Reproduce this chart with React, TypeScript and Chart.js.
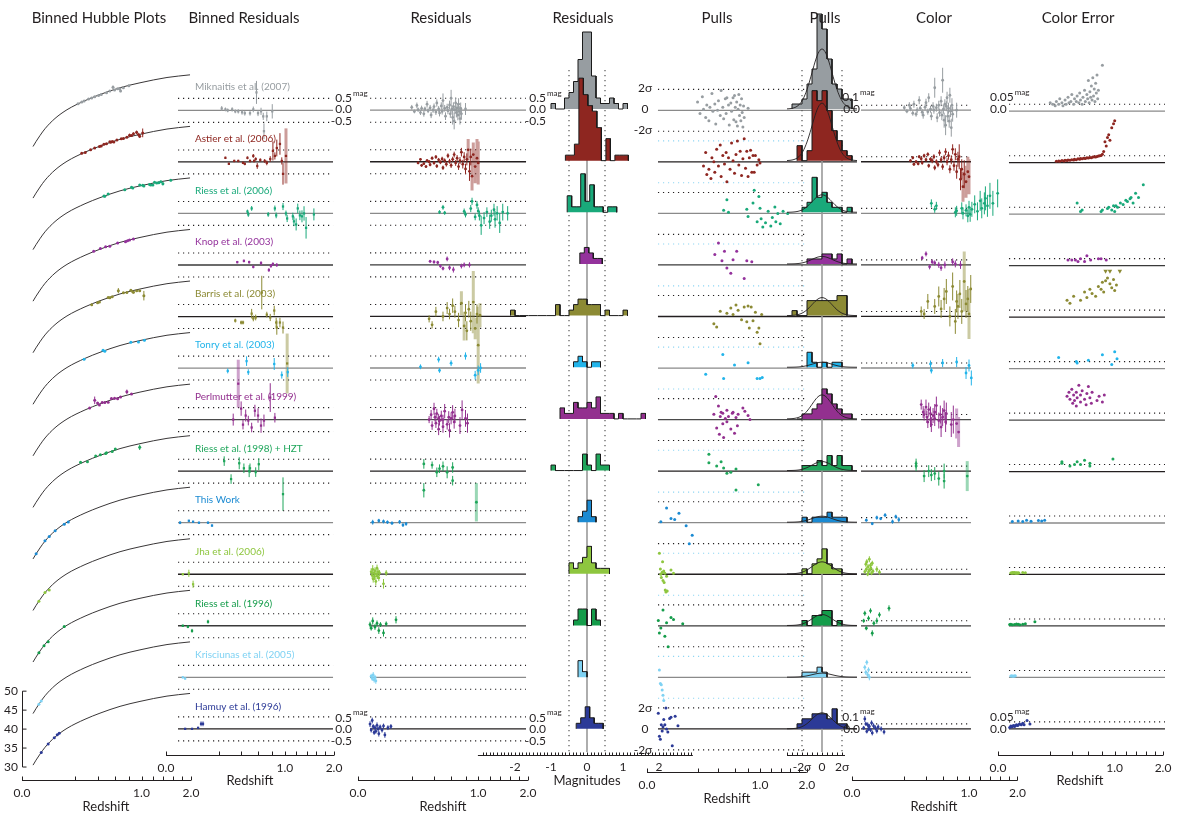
import React, { useEffect, useRef } from 'react';
import { Chart, registerables } from 'chart.js';

Chart.register(...registerables);

const W = 1180;
const H = 815;
const FONT = 'Lato, "Noto Sans", "DejaVu Sans", sans-serif';
const INK = '#231f20';

// ---------------------------------------------------------------- surveys
const SURVEYS = [
  'Miknaitis et al. (2007)', 'Astier et al. (2006)', 'Riess et al. (2006)', 'Knop et al. (2003)',
  'Barris et al. (2003)', 'Tonry et al. (2003)', 'Perlmutter et al. (1999)', 'Riess et al. (1998) + HZT',
  'This Work', 'Jha et al. (2006)', 'Riess et al. (1996)', 'Krisciunas et al. (2005)', 'Hamuy et al. (1996)',
];
const COLORS = ['#979da1', '#8e2620', '#19a97a', '#94329c', '#8c8a34', '#22b4ea', '#93308f', '#1fa65b',
  '#1b8ad2', '#8ec63f', '#149c4a', '#7fd2f3', '#2c3a97'];
const LINE_SHADE = ['#8a8a8a', '#231f20', '#8a8a8a', '#3a3a3a', '#231f20', '#8a8a8a', '#4a4a4a', '#231f20',
  '#8a8a8a', '#231f20', '#3a3a3a', '#8a8a8a', '#231f20'];

// ---------------------------------------------------------------- binned residuals [z, residual, error]
const BIN_MIKNAITIS = [
  [0.22, 0.08, 0.10], [0.25, 0.04, 0.08], [0.27, 0.0, 0.08], [0.31, 0.04, 0.09], [0.34, -0.04, 0.08],
  [0.37, -0.04, 0.09], [0.41, -0.08, 0.10], [0.44, -0.12, 0.10], [0.50, -0.12, 0.10], [0.54, 0.04, 0.12],
  [0.58, 0.75, 0.48], [0.60, -0.12, 0.12], [0.64, -0.04, 0.15], [0.67, -0.25, 0.15], [0.68, -0.87, 0.33],
  [0.72, -0.25, 0.20], [0.80, -0.04, 0.30],
];
const BIN_ASTIER = [
  [0.25, 0.17, 0.05], [0.28, -0.08, 0.05], [0.33, 0.04, 0.05], [0.37, 0.04, 0.05], [0.42, -0.04, 0.05],
  [0.44, -0.08, 0.06], [0.47, 0.17, 0.06], [0.50, 0.04, 0.06], [0.54, 0.25, 0.08], [0.55, 0.04, 0.06],
  [0.57, 0.12, 0.07], [0.59, -0.17, 0.12], [0.63, 0.08, 0.07], [0.69, 0.04, 0.08], [0.72, -0.04, 0.10],
  [0.77, 0.12, 0.12], [0.81, 0.46, 0.40], [0.84, 0.25, 0.15], [0.87, 0.58, 0.35], [0.92, 0.75, 0.45],
  [0.95, 0.04, 0.15], [0.97, -0.50, 0.45], [1.02, 0.25, 1.15],
];
const BIN_RIESS06 = [
  [0.47, 0.08, 0.08], [0.48, -0.04, 0.10], [0.52, 0.21, 0.10], [0.74, -0.04, 0.10], [0.84, 0.21, 0.12],
  [0.86, -0.08, 0.12], [0.97, 0.29, 0.15], [1.02, 0.0, 0.12], [1.04, -0.21, 0.15], [1.14, -0.12, 0.15],
  [1.16, -0.33, 0.20], [1.20, -0.46, 0.25], [1.23, 0.21, 0.20], [1.27, -0.08, 0.20], [1.31, -0.12, 0.25],
  [1.35, 0.0, 0.30], [1.39, -0.60, 0.45], [1.55, -0.04, 0.25],
];
const BIN_KNOP = [
  [0.36, 0.12, 0.05], [0.43, 0.17, 0.06], [0.49, 0.12, 0.06], [0.54, -0.08, 0.06], [0.64, 0.08, 0.08],
  [0.75, -0.21, 0.08], [0.78, -0.04, 0.08], [0.81, 0.04, 0.07], [0.87, 0.0, 0.08],
];
const BIN_BARRIS = [
  [0.34, -0.17, 0.08], [0.40, -0.25, 0.08], [0.42, -0.25, 0.08], [0.52, 0.12, 0.20], [0.54, -0.08, 0.12],
  [0.57, -0.04, 0.12], [0.65, 1.00, 0.70], [0.72, 0.08, 0.12], [0.77, -0.04, 0.15], [0.83, 0.25, 0.20],
  [0.86, -0.25, 0.20], [0.87, -0.46, 0.30], [0.92, -0.25, 0.20], [0.97, -0.46, 0.25], [1.04, -1.96, 1.25],
];
const BIN_TONRY = [
  [0.27, -0.12, 0.10], [0.46, 0.29, 0.20], [0.48, -0.17, 0.12], [0.83, 0.17, 0.25], [0.95, -0.29, 0.15],
  [1.05, -0.17, 0.20],
];
const BIN_PERLMUTTER = [
  [0.32, 0.0, 0.25], [0.37, 1.5, 1.0], [0.40, 0.46, 0.30], [0.42, -0.21, 0.20], [0.45, 0.17, 0.25],
  [0.48, -0.04, 0.20], [0.52, -0.33, 0.20], [0.56, 0.37, 0.25], [0.60, 0.17, 0.30], [0.64, -0.25, 0.30],
  [0.68, -0.04, 0.25], [0.77, 0.92, 0.60], [0.84, 0.08, 0.20],
];
const BIN_RIESS98 = [
  [0.24, 0.42, 0.20], [0.30, -0.33, 0.20], [0.38, 0.33, 0.25], [0.43, 0.12, 0.20], [0.49, 0.0, 0.25],
  [0.50, 0.12, 0.20], [0.57, -0.04, 0.20], [0.61, 0.29, 0.25], [0.97, -0.96, 0.70],
];
const BIN_THISWORK = [
  [0.014, 0.0, 0.06], [0.037, 0.08, 0.04], [0.052, 0.04, 0.04], [0.077, 0.0, 0.04], [0.125, 0.0, 0.05],
  [0.15, -0.12, 0.05],
];
const BIN_JHA = [[0.02, 0.0, 0.05], [0.037, 0.04, 0.15], [0.052, -0.42, 0.15]];
const BIN_RIESS96 = [[0.02, 0.0, 0.05], [0.034, -0.04, 0.06], [0.048, -0.21, 0.08], [0.125, 0.17, 0.08]];
const BIN_KRISCIUNAS = [[0.02, 0.0, 0.05], [0.026, -0.05, 0.05]];
const BIN_HAMUY = [[0.026, 0.0, 0.04], [0.048, 0.0, 0.04], [0.073, 0.04, 0.05], [0.087, 0.21, 0.10], [0.097, 0.21, 0.10]];

// ---------------------------------------------------------------- supernovae
// [z, residual, error, pull, color, color error bar, color uncertainty]
const SN_MIKNAITIS = [
  [0.20, 0.12, 0.10, 0.8, 0.05, 0.05, 0.06], [0.22, -0.05, 0.08, -0.3, -0.02, 0.04, 0.05],
  [0.24, 0.20, 0.12, 1.3, 0.10, 0.06, 0.04], [0.25, 0.02, 0.09, 0.1, 0.03, 0.05, 0.07],
  [0.27, -0.10, 0.10, -0.7, -0.06, 0.05, 0.05], [0.28, 0.08, 0.11, 0.5, 0.12, 0.07, 0.09],
  [0.30, -0.15, 0.12, -1.0, -0.08, 0.05, 0.06], [0.31, 0.05, 0.10, 0.3, 0.00, 0.06, 0.04],
  [0.33, 0.25, 0.14, 1.6, 0.20, 0.08, 0.08], [0.34, -0.02, 0.10, -0.1, 0.04, 0.05, 0.05],
  [0.36, 0.10, 0.12, 0.6, -0.04, 0.06, 0.10], [0.37, -0.20, 0.13, -1.3, -0.10, 0.07, 0.06],
  [0.39, 0.00, 0.11, 0.0, 0.06, 0.06, 0.07], [0.40, 0.15, 0.13, 0.9, 0.15, 0.08, 0.12],
  [0.42, -0.08, 0.12, -0.5, -0.03, 0.06, 0.05], [0.43, 0.30, 0.15, 1.9, 0.25, 0.09, 0.09],
  [0.45, 0.05, 0.12, 0.3, 0.02, 0.07, 0.07], [0.46, -0.12, 0.14, -0.8, -0.12, 0.08, 0.11],
  [0.48, 0.18, 0.15, 1.1, 0.08, 0.08, 0.06], [0.49, -0.05, 0.13, -0.3, 0.00, 0.07, 0.13],
  [0.50, 0.40, 0.30, 1.2, 0.45, 0.20, 0.08], [0.52, 0.08, 0.14, 0.5, 0.05, 0.08, 0.05],
  [0.53, -0.25, 0.16, -1.4, -0.15, 0.09, 0.10], [0.55, 0.12, 0.15, 0.7, 0.10, 0.09, 0.15],
  [0.56, -0.02, 0.15, -0.1, -0.05, 0.08, 0.07], [0.58, 0.22, 0.18, 1.2, 0.18, 0.10, 0.12],
  [0.59, -0.15, 0.17, -0.9, -0.10, 0.10, 0.09], [0.60, 0.50, 0.35, 1.4, 0.60, 0.25, 0.22],
  [0.61, 0.05, 0.16, 0.3, 0.02, 0.09, 0.06], [0.62, -0.30, 0.30, -1.1, -0.20, 0.15, 0.14],
  [0.63, 0.15, 0.18, 0.8, 0.12, 0.10, 0.10], [0.64, -0.45, 0.35, -1.5, -0.30, 0.20, 0.18],
  [0.65, 0.02, 0.17, 0.1, 0.08, 0.10, 0.08], [0.66, 0.30, 0.22, 1.5, 0.25, 0.12, 0.24],
  [0.67, -0.10, 0.20, -0.5, -0.12, 0.12, 0.11], [0.68, 0.10, 0.20, 0.5, 0.04, 0.11, 0.16],
  [0.69, -0.20, 0.22, -1.0, -0.22, 0.13, 0.07], [0.70, 0.25, 0.25, 1.1, 0.30, 0.15, 0.20],
  [0.71, -0.05, 0.22, -0.2, -0.02, 0.12, 0.13], [0.72, -0.35, 0.25, -1.6, -0.35, 0.18, 0.26],
  [0.73, 0.08, 0.24, 0.4, 0.10, 0.14, 0.09], [0.74, -0.15, 0.25, -0.7, -0.08, 0.15, 0.15],
  [0.80, 0.05, 0.25, 0.2, 0.00, 0.15, 0.33],
];
const SN_ASTIER = [
  [0.25, -0.05, 0.05, -0.4, 0.02, 0.03, 0.010], [0.27, 0.10, 0.05, 0.9, 0.08, 0.03, 0.012],
  [0.28, -0.15, 0.06, -1.2, -0.05, 0.03, 0.010], [0.30, -0.08, 0.05, -0.7, 0.00, 0.03, 0.015],
  [0.32, -0.20, 0.06, -1.6, -0.04, 0.03, 0.012], [0.33, 0.05, 0.06, 0.4, 0.10, 0.03, 0.018],
  [0.35, 0.00, 0.06, 0.0, 0.06, 0.04, 0.015], [0.36, -0.12, 0.07, -1.0, -0.02, 0.04, 0.020],
  [0.38, 0.15, 0.07, 1.2, 0.12, 0.04, 0.018], [0.40, -0.05, 0.07, -0.4, 0.04, 0.04, 0.022],
  [0.42, 0.20, 0.08, 1.6, 0.15, 0.04, 0.020], [0.43, -0.18, 0.08, -1.4, -0.08, 0.04, 0.025],
  [0.45, 0.08, 0.08, 0.6, 0.05, 0.04, 0.022], [0.47, -0.02, 0.08, -0.2, 0.02, 0.05, 0.028],
  [0.49, 0.12, 0.09, 0.9, 0.10, 0.05, 0.025], [0.50, -0.25, 0.09, -1.9, -0.12, 0.05, 0.030],
  [0.52, 0.05, 0.09, 0.4, 0.00, 0.05, 0.028], [0.54, -0.10, 0.10, -0.7, -0.06, 0.05, 0.032],
  [0.56, 0.25, 0.10, 1.8, 0.18, 0.06, 0.030], [0.58, 0.02, 0.10, 0.1, 0.04, 0.06, 0.035],
  [0.60, -0.15, 0.11, -1.1, -0.10, 0.06, 0.033], [0.62, 0.10, 0.11, 0.7, 0.08, 0.06, 0.038],
  [0.64, 0.30, 0.12, 2.0, 0.20, 0.07, 0.036], [0.66, -0.05, 0.12, -0.3, 0.00, 0.07, 0.040],
  [0.68, 0.15, 0.13, 1.0, 0.12, 0.08, 0.042], [0.70, -0.20, 0.14, -1.3, -0.15, 0.08, 0.040],
  [0.72, 0.05, 0.15, 0.3, 0.04, 0.09, 0.045], [0.74, 0.40, 0.18, 2.2, 0.25, 0.10, 0.048],
  [0.76, -0.10, 0.18, -0.6, -0.08, 0.10, 0.050], [0.78, 0.20, 0.20, 1.0, 0.15, 0.12, 0.052],
  [0.80, -0.30, 0.22, -1.4, -0.20, 0.14, 0.060], [0.82, 0.10, 0.25, 0.4, 0.05, 0.15, 0.080],
  [0.84, 0.50, 0.45, 1.1, 0.10, 0.25, 0.150], [0.86, -0.40, 0.40, -1.0, -0.35, 0.22, 0.120],
  [0.88, 0.20, 0.35, 0.6, -0.15, 0.20, 0.180], [0.90, -0.60, 0.60, -1.0, -0.50, 0.30, 0.200],
  [0.92, 0.30, 0.50, 0.6, -0.25, 0.28, 0.160], [0.95, -0.20, 0.70, -0.3, -0.40, 0.32, 0.250],
  [0.98, 0.15, 0.80, 0.2, -0.20, 0.30, 0.280], [1.00, -0.05, 0.90, -0.1, -0.30, 0.35, 0.300],
];
const SN_RIESS06 = [
  [0.46, 0.05, 0.08, 0.3, 0.20, 0.08, 0.08], [0.50, 0.25, 0.10, 1.3, 0.08, 0.07, 0.02],
  [0.52, 0.02, 0.08, 0.1, 0.15, 0.08, 0.03], [0.78, 0.08, 0.12, 0.4, 0.02, 0.10, 0.02],
  [0.80, -0.05, 0.12, -0.3, 0.05, 0.10, 0.03], [0.88, 0.20, 0.15, 1.0, 0.10, 0.12, 0.04],
  [0.90, 0.50, 0.15, 2.2, 0.00, 0.12, 0.05], [0.95, -0.15, 0.14, -0.8, 0.06, 0.12, 0.03],
  [0.98, 0.35, 0.16, 1.6, -0.05, 0.13, 0.06], [1.00, 0.10, 0.15, 0.5, 0.12, 0.13, 0.02],
  [1.02, -0.10, 0.20, -0.5, -0.02, 0.15, 0.06], [1.05, -0.50, 0.40, -1.3, 0.08, 0.15, 0.05],
  [1.10, -0.20, 0.25, -0.9, 0.18, 0.18, 0.08], [1.15, 0.05, 0.20, 0.2, 0.04, 0.18, 0.07],
  [1.20, -0.35, 0.30, -1.2, 0.25, 0.20, 0.10], [1.23, -0.10, 0.25, -0.4, 0.10, 0.20, 0.09],
  [1.28, 0.15, 0.25, 0.6, 0.20, 0.22, 0.11], [1.30, -0.25, 0.35, -0.8, 0.30, 0.24, 0.12],
  [1.34, 0.00, 0.30, 0.0, 0.15, 0.22, 0.08], [1.39, -0.40, 0.42, -1.0, 0.35, 0.26, 0.15],
  [1.45, 0.05, 0.35, 0.2, 0.20, 0.25, 0.12], [1.55, 0.00, 0.30, 0.0, 0.40, 0.28, 0.21],
];
const SN_KNOP = [
  [0.36, 0.15, 0.06, 1.0, 0.14, 0.04, 0.04], [0.40, 0.12, 0.06, 2.1, 0.22, 0.05, 0.04],
  [0.44, 0.10, 0.07, 0.4, -0.04, 0.05, 0.04], [0.47, -0.05, 0.07, 1.3, 0.06, 0.05, 0.03],
  [0.50, -0.15, 0.08, -0.3, 0.04, 0.05, 0.05], [0.55, 0.25, 0.10, -0.8, 0.00, 0.06, 0.03],
  [0.58, -0.12, 0.10, 0.5, -0.06, 0.06, 0.07], [0.63, -0.20, 0.12, 1.3, 0.00, 0.07, 0.04],
  [0.74, -0.05, 0.10, -1.3, 0.06, 0.07, 0.05], [0.78, 0.00, 0.10, 0.4, 0.02, 0.07, 0.05],
  [0.86, 0.00, 0.11, 0.3, 0.00, 0.08, 0.04],
];
const SN_BARRIS = [
  [0.35, -0.10, 0.15, -0.7, 0.10, 0.10, 0.12], [0.38, -0.35, 0.15, -1.0, 0.05, 0.10, 0.10],
  [0.42, 0.20, 0.20, 0.5, 0.30, 0.15, 0.15], [0.50, 0.00, 0.20, 0.3, 0.20, 0.15, 0.12],
  [0.55, 0.35, 0.25, 0.8, 0.40, 0.20, 0.18], [0.58, 0.10, 0.22, 0.2, 0.15, 0.18, 0.14],
  [0.62, 0.45, 0.30, 1.1, 0.35, 0.22, 0.20], [0.65, 0.20, 0.25, 0.6, 0.50, 0.25, 0.17],
  [0.70, -0.15, 0.30, -0.3, 0.00, 0.20, 0.15], [0.74, 0.55, 0.50, 0.9, 0.60, 0.28, 0.22],
  [0.78, -0.40, 0.60, -0.5, -0.10, 0.25, 0.20], [0.80, 0.15, 0.35, 1.0, 0.30, 0.22, 0.25],
  [0.82, -0.60, 0.40, -1.1, 0.20, 0.25, 0.18], [0.85, 0.30, 0.35, 0.9, 0.45, 0.28, 0.26],
  [0.88, -0.20, 0.40, -0.4, 0.10, 0.25, 0.28], [0.92, 0.60, 1.30, 0.4, 0.70, 0.60, 0.24],
  [0.95, -0.50, 0.45, -1.5, 0.25, 0.28, 0.21], [0.98, 0.10, 0.40, -1.1, 0.35, 0.26, 0.27],
  [1.00, -1.20, 1.60, -2.6, 0.05, 0.50, 0.19], [1.03, 0.05, 0.50, 0.2, 0.55, 0.28, 0.23],
];
const SN_TONRY = [
  [0.27, 0.05, 0.10, -0.6, 0.05, 0.06, 0.08], [0.45, 0.35, 0.12, 1.3, 0.08, 0.07, 0.05],
  [0.46, -0.10, 0.10, -1.0, -0.05, 0.06, 0.04], [0.60, 0.20, 0.12, 0.3, 0.10, 0.08, 0.06],
  [0.80, 0.50, 0.15, 0.5, 0.12, 0.10, 0.10], [0.95, -0.30, 0.18, -1.0, -0.10, 0.12, 0.03],
  [1.00, -0.10, 0.20, -1.0, 0.05, 0.12, 0.12], [1.04, 0.00, 0.20, -0.9, -0.20, 0.15, 0.07],
];
const SN_PERLMUTTER = [
  [0.35, 0.00, 0.15, 0.5, 0.30, 0.10, 0.17], [0.37, 0.20, 0.20, 2.2, 0.15, 0.12, 0.20],
  [0.38, -0.25, 0.18, -0.8, 0.10, 0.12, 0.15], [0.40, 0.45, 0.25, 1.3, 0.25, 0.15, 0.22],
  [0.41, 0.10, 0.18, -1.4, 0.05, 0.12, 0.12], [0.42, -0.15, 0.20, 0.3, -0.05, 0.12, 0.18],
  [0.43, 0.25, 0.20, 0.7, 0.20, 0.14, 0.14], [0.45, -0.40, 0.25, 0.6, 0.00, 0.15, 0.20],
  [0.45, 0.05, 0.18, -0.4, 0.12, 0.14, 0.10], [0.46, -0.05, 0.20, -1.7, -0.10, 0.15, 0.16],
  [0.48, 0.15, 0.22, 0.1, 0.08, 0.15, 0.25], [0.50, -0.30, 0.25, 0.9, 0.15, 0.16, 0.13],
  [0.50, 0.00, 0.20, -0.2, 0.02, 0.15, 0.18], [0.52, 0.35, 0.30, 0.3, 0.28, 0.18, 0.21],
  [0.55, -0.20, 0.22, -0.9, -0.02, 0.16, 0.15], [0.57, 0.10, 0.25, 0.6, 0.10, 0.18, 0.11],
  [0.58, -0.45, 0.30, 0.7, -0.15, 0.20, 0.19], [0.60, 0.05, 0.25, -1.3, 0.05, 0.18, 0.24],
  [0.62, 0.30, 0.30, 0.2, 0.18, 0.20, 0.16], [0.64, -0.10, 0.28, -0.6, -0.05, 0.20, 0.12],
  [0.65, 0.15, 0.30, 0.5, 0.12, 0.22, 0.20], [0.72, -0.25, 0.35, 1.1, -0.10, 0.25, 0.14],
  [0.75, 0.40, 0.40, 0.8, 0.00, 0.28, 0.17], [0.80, 0.05, 0.35, 0.4, -0.08, 0.30, 0.13],
  [0.83, -0.15, 0.40, 0.0, -0.25, 0.30, 0.18],
];
const SN_RIESS98 = [
  [0.30, 0.30, 0.20, 1.6, 0.10, 0.10, 0.06], [0.30, -0.80, 0.30, 0.8, 0.15, 0.10, 0.07],
  [0.38, 0.25, 0.15, 0.5, -0.10, 0.12, 0.04], [0.43, -0.05, 0.20, 0.9, 0.00, 0.12, 0.05],
  [0.46, 0.10, 0.18, 0.3, -0.08, 0.12, 0.07], [0.50, 0.20, 0.20, -0.2, -0.05, 0.13, 0.05],
  [0.55, -0.05, 0.25, -0.1, -0.15, 0.14, 0.08], [0.62, 0.15, 0.22, 0.2, 0.00, 0.15, 0.06],
  [0.62, -0.40, 0.20, -1.8, -0.20, 0.15, 0.04], [0.97, -1.30, 0.80, -1.3, -0.10, 0.30, 0.09],
];
const SN_THISWORK = [
  [0.015, 0.02, 0.10, 0.1, 0.05, 0.03, 0.010], [0.030, 0.08, 0.08, 1.4, -0.02, 0.03, 0.015],
  [0.045, 0.05, 0.08, 0.4, 0.10, 0.04, 0.010], [0.060, 0.02, 0.07, 0.3, 0.08, 0.03, 0.020],
  [0.080, -0.02, 0.07, 0.9, 0.15, 0.04, 0.012], [0.120, 0.03, 0.08, -0.3, 0.02, 0.04, 0.018],
  [0.140, -0.10, 0.08, -2.0, 0.12, 0.04, 0.015], [0.160, -0.05, 0.08, -1.2, 0.06, 0.05, 0.020],
];
const SN_JHA = [
  [0.012, 0.10, 0.15, 2.0, 0.05, 0.04, 0.010], [0.014, -0.05, 0.15, 0.5, 0.20, 0.05, 0.012],
  [0.015, 0.20, 0.18, 0.0, 0.10, 0.05, 0.008], [0.016, -0.20, 0.15, -0.3, 0.25, 0.05, 0.015],
  [0.018, 0.05, 0.12, 0.2, 0.00, 0.04, 0.010], [0.019, -0.10, 0.14, 1.2, 0.15, 0.05, 0.012],
  [0.020, 0.15, 0.14, -0.6, 0.05, 0.05, 0.014], [0.022, -0.30, 0.16, 0.3, 0.30, 0.06, 0.010],
  [0.023, 0.00, 0.12, -0.8, 0.08, 0.04, 0.008], [0.025, 0.25, 0.15, 0.1, 0.18, 0.05, 0.012],
  [0.026, -0.08, 0.12, -1.5, 0.12, 0.05, 0.011], [0.028, 0.10, 0.12, -1.7, 0.02, 0.04, 0.009],
  [0.030, -0.15, 0.14, -0.2, 0.22, 0.05, 0.013], [0.032, 0.05, 0.12, -1.6, 0.06, 0.05, 0.010],
  [0.045, -0.40, 0.20, 0.4, 0.10, 0.06, 0.014], [0.055, 0.05, 0.12, 0.1, 0.04, 0.05, 0.012],
];
const SN_RIESS96 = [
  [0.010, 0.05, 0.12, 0.5, 0.10, 0.04, 0.010], [0.012, -0.10, 0.10, -0.7, 0.25, 0.05, 0.012],
  [0.015, 0.20, 0.15, -0.2, -0.05, 0.04, 0.008], [0.020, -0.05, 0.12, 1.5, 0.15, 0.05, 0.010],
  [0.025, 0.10, 0.12, -1.0, 0.30, 0.05, 0.014], [0.030, -0.20, 0.14, 0.3, -0.15, 0.06, 0.012],
  [0.035, 0.05, 0.10, -2.0, 0.05, 0.05, 0.009], [0.045, -0.30, 0.15, 0.8, 0.10, 0.06, 0.012],
  [0.055, 0.08, 0.10, 0.6, 0.22, 0.05, 0.015], [0.100, 0.25, 0.15, 0.2, 0.35, 0.06, 0.030],
];
const SN_KRISCIUNAS = [
  [0.012, 0.05, 0.10, 0.7, 0.20, 0.05, 0.010], [0.014, -0.05, 0.10, -0.6, 0.10, 0.05, 0.012],
  [0.016, 0.10, 0.12, -0.7, 0.30, 0.05, 0.008], [0.018, -0.10, 0.12, -1.2, 0.05, 0.05, 0.010],
  [0.020, 0.00, 0.10, -1.7, 0.15, 0.05, 0.011], [0.022, -0.15, 0.12, -2.2, 0.00, 0.06, 0.012],
];
const SN_HAMUY = [
  [0.010, 0.20, 0.12, 1.5, 0.02, 0.04, 0.010], [0.012, -0.05, 0.10, -0.7, 0.20, 0.06, 0.020],
  [0.014, 0.35, 0.12, -1.0, 0.10, 0.04, 0.015], [0.016, 0.10, 0.10, 0.4, -0.05, 0.04, 0.020],
  [0.018, -0.15, 0.10, -0.2, 0.08, 0.05, 0.025], [0.020, 0.05, 0.10, 0.2, 0.00, 0.04, 0.018],
  [0.022, -0.10, 0.10, 0.9, 0.05, 0.05, 0.022], [0.025, 0.15, 0.12, 0.4, -0.02, 0.04, 0.030],
  [0.028, 0.00, 0.10, 2.0, 0.12, 0.05, 0.025], [0.030, -0.20, 0.12, 0.0, -0.08, 0.05, 0.028],
  [0.034, 0.08, 0.10, -0.3, 0.06, 0.05, 0.035], [0.040, -0.05, 0.10, 1.0, 0.02, 0.05, 0.030],
  [0.045, 0.12, 0.10, 1.1, -0.04, 0.05, 0.040], [0.050, -0.25, 0.12, -1.6, 0.04, 0.05, 0.030],
  [0.062, 0.05, 0.10, 1.2, 0.00, 0.05, 0.060], [0.075, 0.10, 0.10, 0.3, -0.06, 0.05, 0.035],
];
// Barris et al. colour uncertainties given only as upper limits [z, limit]
const BARRIS_CE_LIMITS = [[0.85, 0.33], [0.92, 0.33], [1.09, 0.33]];

const BINNED = [BIN_MIKNAITIS, BIN_ASTIER, BIN_RIESS06, BIN_KNOP, BIN_BARRIS, BIN_TONRY, BIN_PERLMUTTER,
  BIN_RIESS98, BIN_THISWORK, BIN_JHA, BIN_RIESS96, BIN_KRISCIUNAS, BIN_HAMUY];
const SNE = [SN_MIKNAITIS, SN_ASTIER, SN_RIESS06, SN_KNOP, SN_BARRIS, SN_TONRY, SN_PERLMUTTER,
  SN_RIESS98, SN_THISWORK, SN_JHA, SN_RIESS96, SN_KRISCIUNAS, SN_HAMUY];

// ---------------------------------------------------------------- histograms
const RES_BIN = 0.125; // mag
const RES_HIST_START = [-1.0, -0.6, -0.55, -0.2, -2.125, -0.375, -0.75, -1.0, -0.25, -0.5, -0.375, -0.25, -0.3];
const RES_HIST_COUNTS = [
  [1, 0, 0, 2, 3, 5, 9, 14, 14, 6, 2, 1, 1, 2, 1, 0, 1],
  [1, 1, 3, 15, 12, 10, 9, 6, 0, 4, 0, 1, 1, 1],
  [3, 1, 1, 7, 2, 5, 1, 1, 0, 1, 1],
  [2, 3, 2, 1, 1],
  [1, 0, 0, 0, 0, 0, 0, 0, 0, 0, 2, 0, 0, 1, 2, 3, 3, 2, 2, 2, 0, 1, 0, 0, 0, 1],
  [1, 2, 1, 0, 1, 1],
  [2, 1, 1, 3, 2, 2, 3, 2, 4, 1, 1, 1, 0, 1, 0, 0, 0, 0, 1],
  [1, 0, 0, 0, 0, 0, 0, 3, 1, 0, 3, 1, 1],
  [1, 2, 4, 1],
  [2, 1, 2, 3, 5, 2, 1, 1, 1],
  [1, 3, 3, 0, 3, 1],
  [3, 1],
  [1, 2, 4, 2, 1, 1],
];
const PULL_BIN = 0.5; // sigma
const PULL_HIST_START = [-3.0, -2.5, -2.0, -1.5, -3.0, -1.5, -2.5, -2.0, -2.0, -2.0, -2.0, -2.0, -2.5];
const PULL_HIST_COUNTS = [
  [1, 1, 2, 5, 8, 19, 16, 10, 5, 4, 2, 2],
  [3, 0, 2, 14, 12, 14, 10, 6, 4, 2, 1],
  [1, 2, 7, 3, 4, 2, 1, 1, 0, 1],
  [1, 1, 1, 2, 2, 1, 2, 0, 1],
  [1, 0, 0, 3, 3, 3, 3, 3, 3, 4, 4],
  [3, 1, 0, 1, 0, 1, 1],
  [0, 1, 1, 2, 3, 6, 5, 3, 2, 1, 1],
  [1, 1, 1, 2, 1, 3, 1, 3, 1, 1],
  [1, 0, 1, 1, 1, 2, 1, 1, 1],
  [1, 0, 2, 3, 5, 2, 1, 1],
  [1, 0, 2, 2, 3, 3, 0, 1],
  [1, 1, 1, 2, 1],
  [1, 2, 2, 3, 3, 3, 2, 4, 1, 1],
];
// peak height of the unit normal drawn over each pull histogram
const PULL_GAUSS_PEAK = [12, 11.5, 3.5, 1.5, 3.6, 1.0, 4.8, 1.8, 1.2, 2.4, 2.2, 0.8, 3.2];

// ---------------------------------------------------------------- Hubble model curve [z, mu] (lowest panel)
const HUBBLE_CURVE = [
  [0.0085, 30.5], [0.0137, 31.8], [0.0227, 33.4], [0.0371, 35.2], [0.0763, 37.9], [0.1418, 40.2],
  [0.278, 42.6], [0.426, 44.2], [0.673, 46.0], [0.975, 47.3], [1.472, 48.7], [1.977, 49.4],
];
const MU_TICKS = [30, 35, 40, 45, 50];

// ---------------------------------------------------------------- geometry
const ROW_TOP = 109;
const ROW_STEP = 51.65;
const rowPx = (k: number) => ROW_TOP + k * ROW_STEP;
const LAST = rowPx(12);
const rowBase = (k: number, ppu: number) => (LAST - rowPx(k)) / ppu;

const SQ2 = Math.SQRT2;
const Z_TICKS = [{ v: 0, label: '0.0' }, { v: 1, label: '1.0' }, { v: SQ2, label: '2.0' }];
const Z_MINOR = [0.2, 0.4, 0.6, 0.8, 1.2, 1.4, 1.6, 1.8].map(Math.sqrt);

const rgba = (hex: string, a: number) => {
  const n = parseInt(hex.slice(1), 16);
  return `rgba(${(n >> 16) & 255},${(n >> 8) & 255},${n & 255},${a})`;
};

// ---------------------------------------------------------------- layer helpers
function hline(x0: number, x1: number, y: number, color: string, width = 1, dash: number[] = []) {
  return {
    type: 'line', data: [{ x: x0, y }, { x: x1, y }], borderColor: color, borderWidth: width,
    borderDash: dash, pointRadius: 0, fill: false, clip: false, tension: 0,
  };
}
function vline(x: number, y0: number, y1: number, color: string, width = 1, dash: number[] = []) {
  return {
    type: 'line', data: [{ x, y: y0 }, { x, y: y1 }], borderColor: color, borderWidth: width,
    borderDash: dash, pointRadius: 0, fill: false, clip: false, tension: 0,
  };
}
function dots(pts: { x: number; y: number }[], color: string, r = 1.5, style = 'circle', rotation = 0) {
  return {
    type: 'scatter', data: pts, pointRadius: r, pointHoverRadius: r, backgroundColor: color,
    borderColor: color, borderWidth: 0, pointStyle: style, rotation, clip: false,
  };
}
function bars(segs: number[][], color: string, width = 1) {
  const data: any[] = [];
  segs.forEach(([x, lo, hi]) => { data.push({ x, y: lo }, { x, y: hi }, { x, y: null }); });
  return {
    type: 'line', data, borderColor: color, borderWidth: width, pointRadius: 0,
    spanGaps: false, fill: false, clip: false, tension: 0,
  };
}
// thin opaque bars for ordinary errors, wide translucent ones for large errors
function errorLayers(segs: number[][], errs: number[], color: string, limit: number) {
  const thin = segs.filter((_, i) => errs[i] < limit);
  const thick = segs.filter((_, i) => errs[i] >= limit);
  return [bars(thick, rgba(color, 0.45), 3), bars(thin, color, 1)];
}
function histLayer(start: number, width: number, counts: number[], base: number, color: string) {
  const pts = [{ x: start, y: base }];
  counts.forEach((c, i) => {
    const x0 = start + i * width;
    pts.push({ x: x0, y: base + c }, { x: x0 + width, y: base + c });
  });
  pts.push({ x: start + counts.length * width, y: base });
  return {
    type: 'line', data: pts, borderColor: '#1a1a1a', borderWidth: 1, backgroundColor: color,
    fill: { value: base }, pointRadius: 0, tension: 0, clip: false,
  };
}
function gaussLayer(peak: number, base: number) {
  const pts: { x: number; y: number }[] = [];
  for (let i = -35; i <= 35; i++) {
    const s = i / 10;
    pts.push({ x: s, y: base + peak * Math.exp(-s * s / 2) });
  }
  return {
    type: 'line', data: pts, borderColor: '#231f20', borderWidth: 0.9, pointRadius: 0,
    fill: false, tension: 0, clip: false,
  };
}

// model distance modulus along the drawn curve (piecewise in sqrt z)
function modelMu(z: number) {
  const s = Math.sqrt(z);
  for (let i = 1; i < HUBBLE_CURVE.length; i++) {
    const [z0, m0] = HUBBLE_CURVE[i - 1];
    const [z1, m1] = HUBBLE_CURVE[i];
    const s0 = Math.sqrt(z0), s1 = Math.sqrt(z1);
    if (s <= s1 || i === HUBBLE_CURVE.length - 1) return m0 + ((s - s0) / (s1 - s0)) * (m1 - m0);
  }
  return HUBBLE_CURVE[0][1];
}

// ---------------------------------------------------------------- text helpers
function text(ctx: CanvasRenderingContext2D, s: string, x: number, y: number, size: number, color = INK,
  align: CanvasTextAlign = 'left') {
  ctx.font = `${size}px ${FONT}`;
  ctx.fillStyle = color;
  ctx.textAlign = align;
  ctx.textBaseline = 'middle';
  ctx.fillText(s, x, y);
}
// number with a small "mag" superscript
function magText(ctx: CanvasRenderingContext2D, s: string, x: number, y: number, align: 'left' | 'right') {
  ctx.font = `12px ${FONT}`;
  const w = ctx.measureText(s).width;
  text(ctx, s, x, y, 12, INK, align);
  const sx = align === 'right' ? x + 1 : x + w + 1;
  text(ctx, 'mag', sx, y - 5, 8, INK, 'left');
}

// ---------------------------------------------------------------- chart factory
type Spec = {
  left: number; unit: number; xMin: number; xMax: number;
  axisY: number; ppu: number; yRef: number; yRefPx: number;
  ticks: { v: number; label: string }[]; minor: number[]; tickLen: number;
  axisFrom: number; axisTo: number; labelGap: number;
};

function makeChart(canvas: HTMLCanvasElement, spec: Spec, layers: any[],
  draw: (ctx: CanvasRenderingContext2D, X: (v: number) => number, Y: (v: number) => number) => void) {
  const areaLeft = spec.left + spec.unit * spec.xMin;
  const areaRight = spec.left + spec.unit * spec.xMax;
  const yMax = spec.yRef + spec.yRefPx / spec.ppu;
  const yMin = spec.yRef + (spec.yRefPx - spec.axisY) / spec.ppu;
  const decor = {
    id: 'decor',
    afterDraw(chart: any) {
      const ctx = chart.ctx as CanvasRenderingContext2D;
      const xs = chart.scales.x;
      const ys = chart.scales.y;
      const X = (v: number) => xs.getPixelForValue(v);
      const Y = (v: number) => ys.getPixelForValue(v);
      const ay = Math.round(xs.top) + 0.5;
      ctx.save();
      ctx.strokeStyle = INK;
      ctx.lineWidth = 1;
      ctx.beginPath();
      ctx.moveTo(X(spec.axisFrom), ay);
      ctx.lineTo(X(spec.axisTo), ay);
      [...spec.ticks.map((t) => t.v), ...spec.minor].forEach((v) => {
        const x = Math.round(X(v)) + 0.5;
        ctx.moveTo(x, ay);
        ctx.lineTo(x, ay - spec.tickLen);
      });
      ctx.stroke();
      draw(ctx, X, Y);
      ctx.restore();
    },
  };
  return new Chart(canvas, {
    type: 'scatter',
    data: { datasets: layers.slice().reverse() },
    options: {
      animation: false,
      responsive: false,
      devicePixelRatio: 1,
      events: [],
      layout: { padding: { left: areaLeft, right: W - areaRight, top: 0, bottom: 0 } },
      plugins: { legend: { display: false }, tooltip: { enabled: false }, title: { display: false } },
      scales: {
        x: {
          type: 'linear', position: 'bottom', min: spec.xMin, max: spec.xMax,
          grid: { display: false, drawTicks: false, tickLength: 0 }, border: { display: false },
          afterBuildTicks: (s: any) => { s.ticks = spec.ticks.map((t) => ({ value: t.v })); },
          afterFit: (s: any) => { s.height = H - spec.axisY; },
          ticks: {
            autoSkip: false, maxRotation: 0, minRotation: 0, padding: spec.labelGap - 7.2,
            font: { family: FONT, size: 12 }, color: INK,
            callback: (_v: any, i: number) => spec.ticks[i].label,
          },
        },
        y: { type: 'linear', min: yMin, max: yMax, display: false },
      },
    } as any,
    plugins: [decor],
  } as any);
}

const TITLE = 15;

function buildAll(canvases: HTMLCanvasElement[]) {
  const charts: Chart[] = [];
  const rows = SURVEYS.map((_, k) => k);

  // ---- 1: binned Hubble diagrams
  {
    const spec: Spec = { left: 22, unit: 119.5, xMin: 0, xMax: SQ2, axisY: 780, ppu: 3.8, yRef: 50, yRefPx: 691,
      ticks: Z_TICKS, minor: Z_MINOR, tickLen: 4, axisFrom: 0, axisTo: SQ2, labelGap: 13 };
    const layers: any[] = [];
    rows.forEach((k) => {
      const off = rowBase(k, 3.8);
      layers.push({
        type: 'line', data: HUBBLE_CURVE.map(([z, mu]) => ({ x: Math.sqrt(z), y: mu + off })),
        borderColor: INK, borderWidth: 0.9, pointRadius: 0, fill: false, cubicInterpolationMode: 'monotone', clip: false,
      });
      const b = BINNED[k];
      const segs = b.map(([z, r, e]) => [Math.sqrt(z), modelMu(z) + off + r - e, modelMu(z) + off + r + e]);
      layers.push(bars(segs, COLORS[k], 1));
      layers.push(dots(b.map(([z, r]) => ({ x: Math.sqrt(z), y: modelMu(z) + off + r })), COLORS[k], 1.5));
    });
    charts.push(makeChart(canvases[0], spec, layers, (ctx, X, Y) => {
      text(ctx, 'Binned Hubble Plots', 99, 18, TITLE, INK, 'center');
      text(ctx, 'Redshift', 106, 807, 13, INK, 'center');
      const x0 = Math.round(X(0)) + 0.5;
      ctx.strokeStyle = INK;
      ctx.lineWidth = 1;
      ctx.beginPath();
      ctx.moveTo(x0, Y(30));
      ctx.lineTo(x0, Y(50));
      MU_TICKS.forEach((m) => { ctx.moveTo(x0, Y(m)); ctx.lineTo(x0 + 4, Y(m)); });
      ctx.stroke();
      MU_TICKS.forEach((m) => text(ctx, String(m), 18, Y(m), 12, INK, 'right'));
    }));
  }

  // ---- 2: binned residuals
  {
    const ppu = 24;
    const spec: Spec = { left: 166, unit: 118.8, xMin: 0, xMax: SQ2, axisY: 755, ppu, yRef: 0, yRefPx: LAST,
      ticks: Z_TICKS, minor: Z_MINOR, tickLen: 4, axisFrom: 0, axisTo: SQ2, labelGap: 13 };
    const layers: any[] = [];
    const xa = 0.101, xb = 1.406;
    rows.forEach((k) => {
      const rb = rowBase(k, ppu);
      layers.push(hline(xa, xb, rb + 0.5, INK, 1.1, [1.2, 3.8]));
      layers.push(hline(xa, xb, rb - 0.5, INK, 1.1, [1.2, 3.8]));
      layers.push(hline(xa, xb, rb, LINE_SHADE[k], 1.3));
      const b = BINNED[k];
      layers.push(...errorLayers(b.map(([z, r, e]) => [Math.sqrt(z), rb + r - e, rb + r + e]), b.map((d) => d[2]), COLORS[k], 0.8));
      layers.push(dots(b.map(([z, r]) => ({ x: Math.sqrt(z), y: rb + r })), COLORS[k], 1.6, 'rect'));
    });
    charts.push(makeChart(canvases[1], spec, layers, (ctx) => {
      text(ctx, 'Binned Residuals', 244, 18, TITLE, INK, 'center');
      text(ctx, 'Redshift', 250, 781, 13, INK, 'center');
      rows.forEach((k) => text(ctx, SURVEYS[k], 195, rowPx(k) - 22, 10, COLORS[k], 'left'));
      [0, 12].forEach((k) => {
        const B = rowPx(k);
        magText(ctx, '0.5', 352, B - 11, 'right');
        text(ctx, '0.0', 352, B, 12, INK, 'right');
        text(ctx, '-0.5', 352, B + 12, 12, INK, 'right');
      });
    }));
  }

  // ---- 3: individual residuals
  {
    const ppu = 24;
    const spec: Spec = { left: 358, unit: 120.2, xMin: 0, xMax: SQ2, axisY: 780, ppu, yRef: 0, yRefPx: LAST,
      ticks: Z_TICKS, minor: Z_MINOR, tickLen: 4, axisFrom: 0, axisTo: SQ2, labelGap: 13 };
    const layers: any[] = [];
    const xa = 0.1, xb = 1.398;
    rows.forEach((k) => {
      const rb = rowBase(k, ppu);
      layers.push(hline(xa, xb, rb + 0.5, INK, 1.1, [1.2, 3.8]));
      layers.push(hline(xa, xb, rb - 0.5, INK, 1.1, [1.2, 3.8]));
      layers.push(hline(xa, xb, rb, LINE_SHADE[k], 1.3));
      const s = SNE[k];
      layers.push(...errorLayers(s.map(([z, r, e]) => [Math.sqrt(z), rb + r - e, rb + r + e]), s.map((d) => d[2]), COLORS[k], 0.45));
      layers.push(dots(s.map(([z, r]) => ({ x: Math.sqrt(z), y: rb + r })), COLORS[k], 1.4));
    });
    charts.push(makeChart(canvases[2], spec, layers, (ctx) => {
      text(ctx, 'Residuals', 441, 18, TITLE, INK, 'center');
      text(ctx, 'Redshift', 443, 807, 13, INK, 'center');
      [0, 12].forEach((k) => {
        const B = rowPx(k);
        magText(ctx, '0.5', 546, B - 11, 'right');
        text(ctx, '0.0', 546, B, 12, INK, 'right');
        text(ctx, '-0.5', 546, B + 12, 12, INK, 'right');
      });
    }));
  }

  // ---- 4: residual histograms
  {
    const ppu = 5.5;
    const minor: number[] = [];
    for (let i = -30; i <= 29; i++) if (i % 10 !== 0) minor.push(i / 10);
    const spec: Spec = { left: 587, unit: 36, xMin: -3.1, xMax: 3.0, axisY: 755, ppu, yRef: 0, yRefPx: LAST,
      ticks: [-2, -1, 0, 1, 2].map((v) => ({ v, label: String(v) })), minor, tickLen: 3,
      axisFrom: -3.03, axisTo: 2.94, labelGap: 12 };
    const yTop = (LAST - 70) / ppu, yBot = (LAST - 752) / ppu;
    const layers: any[] = [
      vline(-0.5, yTop, yBot, '#555', 1.2, [1.2, 3.8]),
      vline(0.5, yTop, yBot, '#555', 1.2, [1.2, 3.8]),
      vline(0, (LAST - 150) / ppu, yBot, '#9a9a9a', 1.6),
    ];
    rows.forEach((k) => {
      layers.push(histLayer(RES_HIST_START[k], RES_BIN, RES_HIST_COUNTS[k], rowBase(k, ppu), COLORS[k]));
    });
    charts.push(makeChart(canvases[3], spec, layers, (ctx) => {
      text(ctx, 'Residuals', 583, 18, TITLE, INK, 'center');
      text(ctx, 'Magnitudes', 587, 781, 13, INK, 'center');
    }));
  }

  // ---- 5: pulls
  {
    const ppu = 10.5;
    const spec: Spec = { left: 647, unit: 113, xMin: 0, xMax: 1.86, axisY: 772, ppu, yRef: 0, yRefPx: LAST,
      ticks: Z_TICKS, minor: Z_MINOR, tickLen: 4, axisFrom: 0, axisTo: SQ2, labelGap: 13 };
    const layers: any[] = [];
    const xa = 0.097, xb = 1.416, xc = 1.858;
    rows.forEach((k) => {
      const rb = rowBase(k, ppu);
      const dc = k % 2 === 0 ? INK : '#8fd6f3';
      layers.push(hline(xa, xb, rb + 2, dc, 1.1, [1.2, 3.8]));
      layers.push(hline(xa, xb, rb - 2, dc, 1.1, [1.2, 3.8]));
      layers.push(hline(xa, xc, rb, LINE_SHADE[k], 1.3));
      layers.push(dots(SNE[k].map((d) => ({ x: Math.sqrt(d[0]), y: rb + d[3] })), COLORS[k], 1.5));
    });
    charts.push(makeChart(canvases[4], spec, layers, (ctx) => {
      text(ctx, 'Pulls', 717, 18, TITLE, INK, 'center');
      text(ctx, 'Redshift', 727, 799, 13, INK, 'center');
      [0, 12].forEach((k) => {
        const B = rowPx(k);
        text(ctx, '2σ', 645, B - 21, 12, INK, 'center');
        text(ctx, '0', 645, B, 12, INK, 'center');
        text(ctx, '-2σ', 643, B + 21, 12, INK, 'center');
      });
    }));
  }

  // ---- 6: pull histograms
  {
    const ppu = 5;
    const spec: Spec = { left: 822, unit: 10, xMin: -3.6, xMax: 3.6, axisY: 755, ppu, yRef: 0, yRefPx: LAST,
      ticks: [{ v: -2, label: '-2σ' }, { v: 0, label: '0' }, { v: 2, label: '2σ' }],
      minor: [-3.5, -3, -2.5, -1.5, -1, -0.5, 0.5, 1, 1.5], tickLen: 3, axisFrom: -3.5, axisTo: 2.3, labelGap: 12 };
    const yTop = (LAST - 70) / ppu, yBot = (LAST - 752) / ppu;
    const layers: any[] = [
      vline(-2, yTop, yBot, '#555', 1.2, [1.2, 3.8]),
      vline(2, yTop, yBot, '#555', 1.2, [1.2, 3.8]),
      vline(0, (LAST - 150) / ppu, yBot, '#9a9a9a', 1.6),
    ];
    rows.forEach((k) => {
      const rb = rowBase(k, ppu);
      layers.push(histLayer(PULL_HIST_START[k], PULL_BIN, PULL_HIST_COUNTS[k], rb, COLORS[k]));
      layers.push(gaussLayer(PULL_GAUSS_PEAK[k], rb));
    });
    charts.push(makeChart(canvases[5], spec, layers, (ctx) => {
      text(ctx, 'Pulls', 825, 18, TITLE, INK, 'center');
    }));
  }

  // ---- 7: colour
  {
    const ppu = 50;
    const spec: Spec = { left: 852, unit: 117, xMin: 0, xMax: SQ2, axisY: 780, ppu, yRef: 0, yRefPx: LAST,
      ticks: Z_TICKS, minor: Z_MINOR, tickLen: 4, axisFrom: 0, axisTo: SQ2, labelGap: 13 };
    const layers: any[] = [];
    const xa = 0.077, xb = 1.017;
    rows.forEach((k) => {
      const rb = rowBase(k, ppu);
      layers.push(hline(xa, xb, rb + 0.1, INK, 1.1, [1.2, 3.8]));
      layers.push(hline(xa, xb, rb, LINE_SHADE[k], 1.3));
      const s = SNE[k];
      layers.push(...errorLayers(s.map((d) => [Math.sqrt(d[0]), rb + d[4] - d[5], rb + d[4] + d[5]]), s.map((d) => d[5]), COLORS[k], 0.3));
      layers.push(dots(s.map((d) => ({ x: Math.sqrt(d[0]), y: rb + d[4] })), COLORS[k], 1.4));
    });
    charts.push(makeChart(canvases[6], spec, layers, (ctx) => {
      text(ctx, 'Color', 934, 18, TITLE, INK, 'center');
      text(ctx, 'Redshift', 934, 807, 13, INK, 'center');
      [0, 12].forEach((k) => {
        const B = rowPx(k);
        magText(ctx, '0.1', 859, B - 12, 'right');
        text(ctx, '0.0', 860, B, 12, INK, 'right');
      });
    }));
  }

  // ---- 8: colour uncertainty
  {
    const ppu = 140;
    const spec: Spec = { left: 998, unit: 116.7, xMin: 0, xMax: 1.44, axisY: 755, ppu, yRef: 0, yRefPx: LAST,
      ticks: Z_TICKS, minor: Z_MINOR, tickLen: 4, axisFrom: 0, axisTo: SQ2, labelGap: 13 };
    const layers: any[] = [];
    const xa = 0.094, xb = 1.431;
    rows.forEach((k) => {
      const rb = rowBase(k, ppu);
      layers.push(hline(xa, xb, rb + 0.05, INK, 1.1, [1.2, 3.8]));
      layers.push(hline(xa, xb, rb, LINE_SHADE[k], 1.3));
      layers.push(dots(SNE[k].map((d) => ({ x: Math.sqrt(d[0]), y: rb + d[6] })), COLORS[k], 1.5));
      if (k === 4) {
        layers.push(dots(BARRIS_CE_LIMITS.map(([z, c]) => ({ x: Math.sqrt(z), y: rb + c })), COLORS[k], 2.6, 'triangle', 180));
      }
    });
    charts.push(makeChart(canvases[7], spec, layers, (ctx) => {
      text(ctx, 'Color Error', 1078, 18, TITLE, INK, 'center');
      text(ctx, 'Redshift', 1080, 781, 13, INK, 'center');
      [0, 12].forEach((k) => {
        const B = rowPx(k);
        magText(ctx, '0.05', 990, B - 12, 'left');
        text(ctx, '0.0', 990, B, 12, INK, 'left');
      });
    }));
  }
  return charts;
}

export default function App() {
  const refs = useRef<(HTMLCanvasElement | null)[]>([]);
  useEffect(() => {
    const canvases = refs.current.filter(Boolean) as HTMLCanvasElement[];
    const charts = buildAll(canvases);
    return () => charts.forEach((c) => c.destroy());
  }, []);
  return (
    <div style={{ position: 'fixed', left: 0, top: 0, width: W, height: H, background: '#ffffff', overflow: 'hidden' }}>
      {Array.from({ length: 8 }).map((_, i) => (
        <canvas
          key={i}
          ref={(el) => { refs.current[i] = el; }}
          width={W}
          height={H}
          style={{ position: 'absolute', left: 0, top: 0, width: W, height: H }}
        />
      ))}
    </div>
  );
}
